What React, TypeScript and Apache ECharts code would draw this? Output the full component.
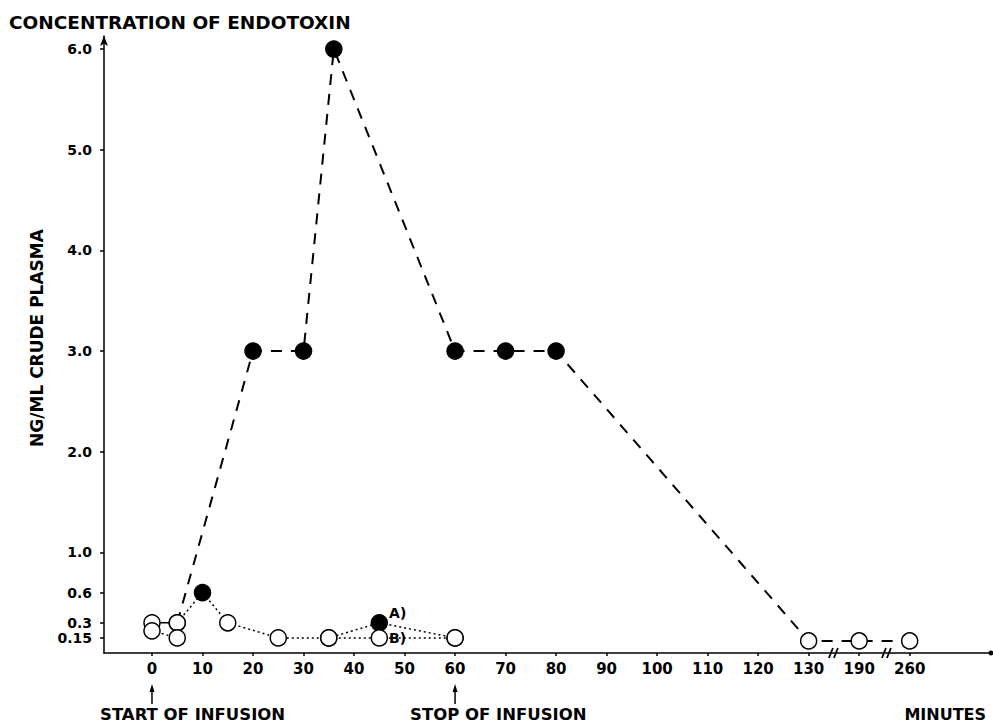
import React, { useEffect, useRef } from "react";
import * as echarts from "echarts";

// ---- tick labels ----
const xTickMinutes = [0, 10, 20, 30, 40, 50, 60, 70, 80, 90, 100, 110, 120, 130, 190, 260];
const yTickValues = [0.15, 0.3, 0.6, 1, 2, 3, 4, 5, 6];

// broken time axis: minutes beyond the break are drawn at compressed positions
const breakMinutes = [190, 260];
const breakPositions = [140, 150];
const breakMarkPositions = [135, 145.5];

// ---- main curve (dashed, large circles) ----
const mainMinutes = [5, 20, 30, 36, 60, 70, 80, 130, 190, 260];
const mainValues = [0.3, 3.0, 3.0, 6.0, 3.0, 3.0, 3.0, 0.12, 0.12, 0.12];
const mainFilled = [false, true, true, true, true, true, true, false, false, false];

// ---- curve A (dotted) ----
const aMinutes = [0, 5, 10, 15, 25, 35, 45, 60];
const aValues = [0.3, 0.3, 0.6, 0.3, 0.15, 0.15, 0.3, 0.15];
const aFilled = [false, false, true, false, false, false, true, false];

// ---- curve B (dotted, with a gap) ----
const bMinutes = [0, 5, 20, 35, 45, 60];
const bValues: (number | null)[] = [0.22, 0.15, null, 0.15, 0.15, 0.15];

const FONT = "DejaVu Sans";

function toAxis(m: number): number {
  const i = breakMinutes.indexOf(m);
  return i >= 0 ? breakPositions[i] : m;
}
function fromAxis(v: number): number {
  const i = breakPositions.indexOf(v);
  return i >= 0 ? breakMinutes[i] : v;
}

export default function App() {
  const ref = useRef<HTMLDivElement>(null);

  useEffect(() => {
    const el = ref.current!;
    const chart = echarts.init(el, null, { renderer: "svg" });

    const pointLabel = (text: string, dy: number) => ({
      show: true,
      formatter: text,
      position: "right",
      distance: 1,
      offset: [0, dy],
      fontFamily: FONT,
      fontWeight: "bold",
      fontSize: 14,
      color: "#000",
    });

    const markerItems: any[] = [];
    mainMinutes.forEach((m, i) => {
      markerItems.push({
        value: [toAxis(m), mainValues[i]],
        itemStyle: { color: mainFilled[i] ? "#000" : "#fff" },
      });
    });
    aMinutes.forEach((m, i) => {
      const item: any = {
        value: [toAxis(m), aValues[i]],
        itemStyle: { color: aFilled[i] ? "#000" : "#fff" },
      };
      if (m === 45) item.label = pointLabel("A)", -10);
      markerItems.push(item);
    });
    bMinutes.forEach((m, i) => {
      if (bValues[i] === null) return;
      const item: any = {
        value: [toAxis(m), bValues[i]],
        itemStyle: { color: "#fff" },
      };
      if (m === 45) item.label = pointLabel("B)", 0);
      markerItems.push(item);
    });

    const axisLabelStyle = {
      fontFamily: FONT,
      fontWeight: "bold" as const,
      color: "#000",
    };

    chart.setOption({
      animation: false,
      backgroundColor: "#fff",
      grid: { left: 104, right: 2, top: 36, bottom: 69, containLabel: false },
      xAxis: {
        type: "value",
        min: -9.5,
        max: 166.1,
        splitLine: { show: false },
        axisLine: {
          show: true,
          onZero: false,
          symbol: ["none", "circle"],
          symbolSize: [5, 5],
          lineStyle: { color: "#000", width: 1.5 },
        },
        axisTick: {
          show: true,
          length: 3,
          customValues: xTickMinutes.map(toAxis),
          lineStyle: { color: "#000", width: 1.5 },
        },
        axisLabel: {
          ...axisLabelStyle,
          fontSize: 15,
          margin: 8,
          customValues: xTickMinutes.map(toAxis),
          formatter: (v: number) => String(fromAxis(v)),
        },
      },
      yAxis: {
        type: "value",
        min: 0,
        max: 6.13,
        splitLine: { show: false },
        axisLine: {
          show: true,
          onZero: false,
          symbol: ["none", "arrow"],
          symbolSize: [6, 10],
          lineStyle: { color: "#000", width: 1.5 },
        },
        axisTick: {
          show: true,
          length: 4,
          customValues: yTickValues,
          lineStyle: { color: "#000", width: 1.5 },
        },
        axisLabel: {
          ...axisLabelStyle,
          fontSize: 14,
          lineHeight: 14,
          margin: 12,
          customValues: yTickValues,
          formatter: (v: number) => (v >= 1 ? v.toFixed(1) : String(v)),
        },
      },
      series: [
        {
          name: "main",
          type: "line",
          symbol: "none",
          z: 2,
          data: mainMinutes.map((m, i) => [toAxis(m), mainValues[i]]),
          lineStyle: { color: "#000", width: 2, type: [11, 9] },
        },
        {
          name: "A start",
          type: "line",
          symbol: "none",
          z: 2,
          data: aMinutes.slice(0, 2).map((m, i) => [toAxis(m), aValues[i]]),
          lineStyle: { color: "#000", width: 1.5, type: "solid" },
        },
        {
          name: "A",
          type: "line",
          symbol: "none",
          z: 2,
          data: aMinutes.slice(1).map((m, i) => [toAxis(m), aValues[i + 1]]),
          lineStyle: { color: "#000", width: 1.5, type: [2, 3] },
        },
        {
          name: "B",
          type: "line",
          symbol: "none",
          z: 2,
          connectNulls: false,
          data: bMinutes.map((m, i) => [toAxis(m), bValues[i] === null ? "-" : bValues[i]]),
          lineStyle: { color: "#000", width: 1.5, type: [2, 3] },
        },
        {
          name: "markers",
          type: "scatter",
          symbol: "circle",
          symbolSize: 16,
          z: 5,
          itemStyle: { borderColor: "#000", borderWidth: 1.5, opacity: 1 },
          data: markerItems,
        },
      ],
    });

    const px = (x: number, y: number) =>
      chart.convertToPixel({ gridIndex: 0 }, [x, y]) as number[];

    const graphics: any[] = [];
    const textStyle = (text: string, size: number, extra: any = {}) => ({
      text,
      fontFamily: FONT,
      fontWeight: "bold",
      fontSize: size,
      fill: "#000",
      ...extra,
    });

    graphics.push({
      type: "text",
      x: 9,
      y: 22,
      style: textStyle("CONCENTRATION OF ENDOTOXIN", 18.5, { align: "left", verticalAlign: "middle" }),
    });
    graphics.push({
      type: "text",
      x: 36.5,
      y: 338,
      rotation: Math.PI / 2,
      style: textStyle("NG/ML CRUDE PLASMA", 17, { align: "center", verticalAlign: "middle" }),
    });

    // break marks on time axis
    breakMarkPositions.forEach((bx) => {
      const [cx, cy] = px(bx, 0);
      [-3, 2].forEach((dx) => {
        graphics.push({
          type: "line",
          shape: { x1: cx + dx - 2, y1: cy + 5, x2: cx + dx + 2, y2: cy - 5 },
          style: { stroke: "#000", lineWidth: 1.8 },
          z: 10,
        });
      });
    });

    // infusion arrows
    const annotations = [
      { minute: 0, text: "START OF INFUSION", left: 100 },
      { minute: 60, text: "STOP OF INFUSION", left: 410 },
    ];
    annotations.forEach((a) => {
      const [ax] = px(toAxis(a.minute), 0);
      graphics.push({
        type: "line",
        shape: { x1: ax, y1: 704, x2: ax, y2: 688 },
        style: { stroke: "#000", lineWidth: 1.5 },
      });
      graphics.push({
        type: "polygon",
        shape: { points: [[ax, 684], [ax - 2.5, 692], [ax + 2.5, 692]] },
        style: { fill: "#000" },
      });
      graphics.push({
        type: "text",
        x: a.left,
        y: 714,
        style: textStyle(a.text, 16.5, { align: "left", verticalAlign: "middle" }),
      });
    });
    graphics.push({
      type: "text",
      x: 986,
      y: 714,
      style: textStyle("MINUTES", 16, { align: "right", verticalAlign: "middle" }),
    });

    chart.setOption({ graphic: graphics });

    return () => chart.dispose();
  }, []);

  return (
    <div
      ref={ref}
      style={{ position: "fixed", left: 0, top: 0, width: 993, height: 722, background: "#fff" }}
    />
  );
}
